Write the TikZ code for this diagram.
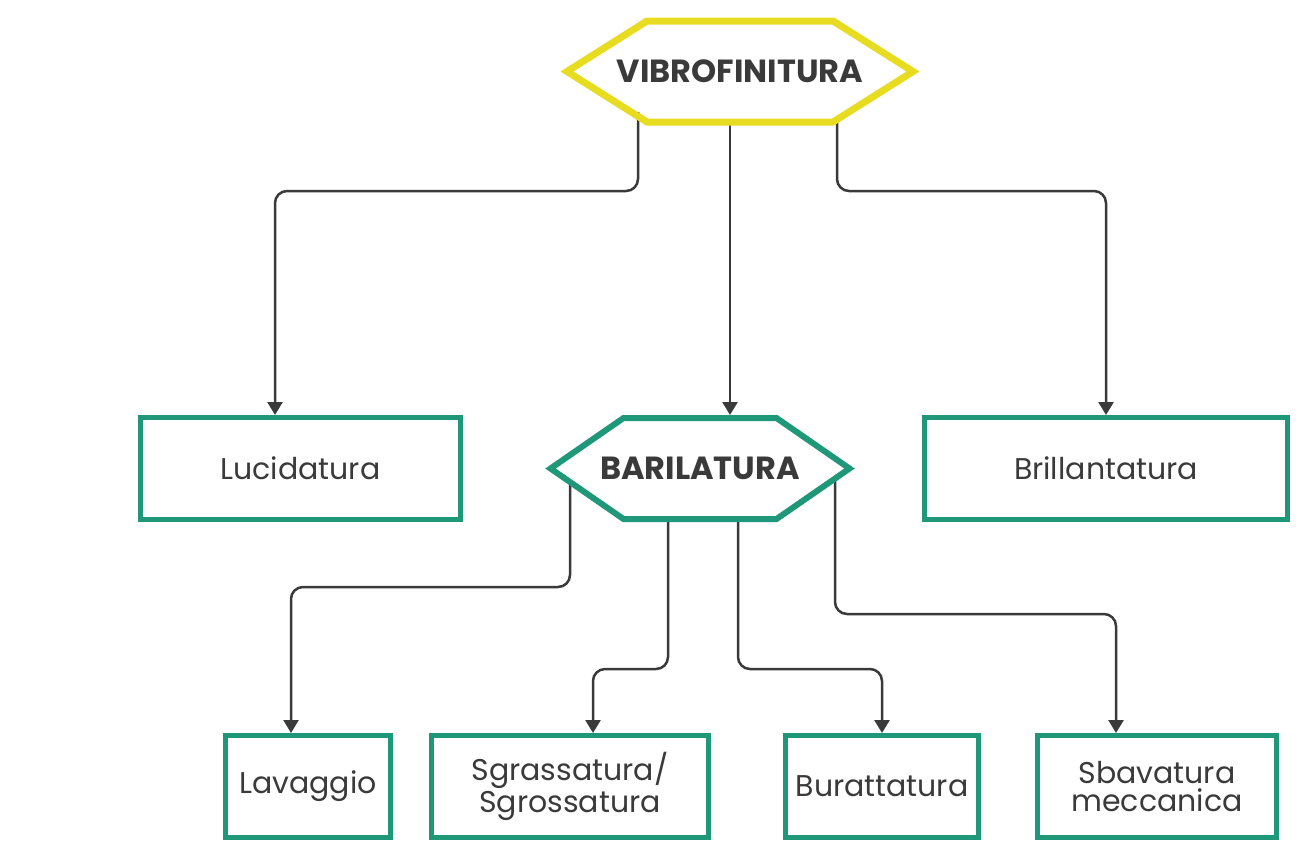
\documentclass[tikz,border=0pt]{standalone}
\usepackage{fontspec}
\setmainfont{Poppins}
\usetikzlibrary{arrows.meta}
\definecolor{vibyellow}{RGB}{232,220,32}
\definecolor{bargreen}{RGB}{30,152,120}
\definecolor{inkgray}{RGB}{58,58,58}
\tikzset{>={Triangle[width=7.5pt,length=6.5pt]}}

\begin{document}
\begin{tikzpicture}[x=0.5pt, y=-0.5pt,
    box/.style={draw=bargreen, line width=2.5pt, minimum height=51pt, inner sep=2pt,
      align=center, text=inkgray, font=\fontsize{15}{14}\selectfont},
    hexcore/.style={minimum height=50.5pt, inner sep=0pt, outer sep=0pt,
      text=inkgray, font=\bfseries\fontsize{16}{16}\selectfont},
    link/.style={->, draw=inkgray, line width=1.25pt, rounded corners=6pt}]
  \useasboundingbox (0,0) rectangle (1304,858);
  \node[hexcore, minimum width=173pt] (vib) at (740,71.5) {VIBROFINITURA};
  \node[hexcore, minimum width=149.5pt] (bar) at (700,468.5) {BARILATURA};
  \node[box, minimum width=160pt] (luc) at (300.5,468.5) {Lucidatura};
  \node[box, minimum width=181.5pt] (bri) at (1106,468.5) {Brillantatura};
  \node[box, minimum width=82.5pt] (lav) at (308,786.5) {Lavaggio};
  \node[box, minimum width=138.5pt] (sgr) at (570,786.5) {Sgrassatura/\\Sgrossatura};
  \node[box, minimum width=96.5pt] (bur) at (882,786.5) {Burattatura};
  \node[box, minimum width=119.5pt] (sba) at (1157,786.5) {Sbavatura\\meccanica};

  \draw[link] ([xshift=-51pt,yshift=5pt]vib.south) -- ++(0,79) -| ([xshift=-12.75pt]luc.north);
  \draw[link] ([xshift=-5pt]vib.south) -- ([xshift=15pt,yshift=1.5pt]bar.north);
  \draw[link] ([xshift=48.5pt,yshift=2pt]vib.south) -- ++(0,73) -| (bri.north);
  \draw[link] ([xshift=-65pt,yshift=18pt]bar.south) -- ++(0,104) -| ([xshift=-8.5pt]lav.north);
  \draw[link] ([xshift=-16pt]bar.south) -- ++(0,150) -| ([xshift=11.5pt]sgr.north);
  \draw[link] ([xshift=19pt]bar.south) -- ++(0,150) -| (bur.north);
  \draw[link] ([xshift=67.5pt,yshift=20pt]bar.south) -- ++(0,135) -| ([xshift=-20.5pt]sba.north);

  \draw[draw=vibyellow, line width=3.5pt] (vib.west) -- ([xshift=40pt]vib.north west)
    -- ([xshift=-40pt]vib.north east) -- (vib.east) -- ([xshift=-40pt]vib.south east)
    -- ([xshift=40pt]vib.south west) -- cycle;
  \draw[draw=bargreen, line width=3pt] (bar.west) -- ([xshift=36.5pt]bar.north west)
    -- ([xshift=-36.5pt]bar.north east) -- (bar.east) -- ([xshift=-36.5pt]bar.south east)
    -- ([xshift=36.5pt]bar.south west) -- cycle;
\end{tikzpicture}
\end{document}
